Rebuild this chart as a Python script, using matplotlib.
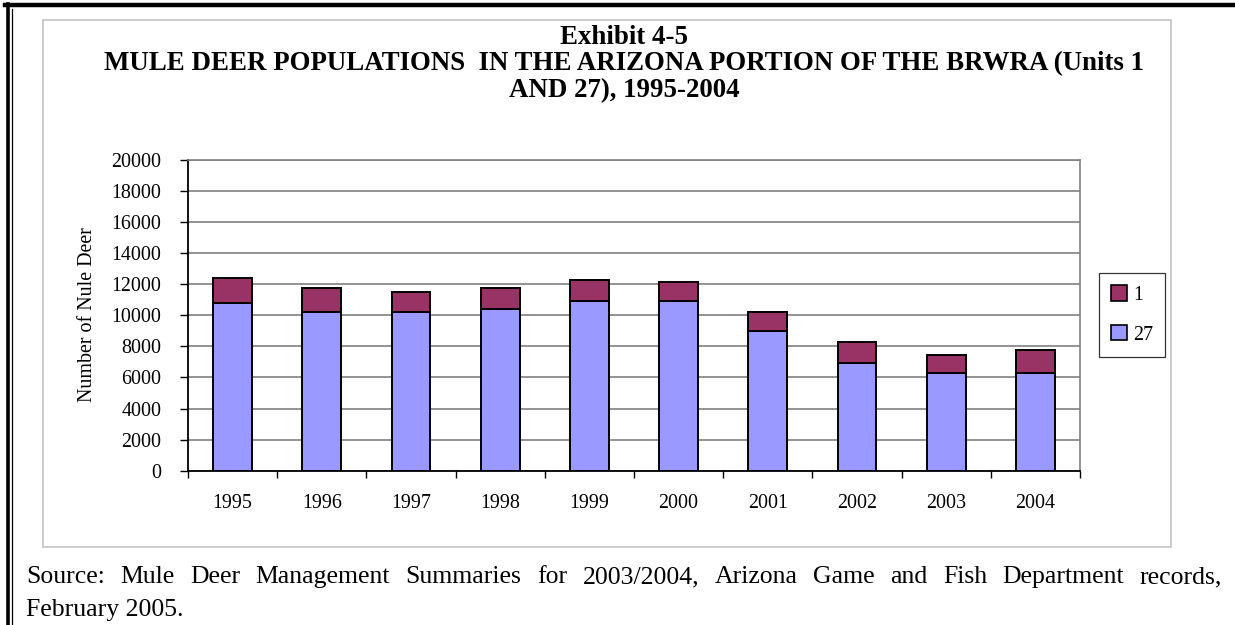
import matplotlib
matplotlib.use("Agg")
import matplotlib.pyplot as plt
from matplotlib.patches import Rectangle, Patch
from matplotlib.lines import Line2D

years = ["1995", "1996", "1997", "1998", "1999", "2000", "2001", "2002", "2003", "2004"]
unit27 = [10800, 10200, 10200, 10400, 10950, 10950, 9000, 6950, 6280, 6280]
unit1 = [1600, 1560, 1280, 1360, 1300, 1180, 1220, 1330, 1180, 1510]
yticks = list(range(0, 20001, 2000))

C27 = "#9999FF"
C1 = "#993366"
SERIF = ["Liberation Serif", "DejaVu Serif"]
plt.rcParams["font.family"] = SERIF

W, H = 1235, 625
fig = plt.figure(figsize=(W / 100, H / 100), dpi=100)
fig.patch.set_facecolor("white")


def fx(px):
    return px / W


def fy(py):
    return 1 - py / H


# outer page frame
fig.add_artist(Line2D([fx(5), fx(1235)], [fy(5), fy(5)], color="black", lw=3.2, transform=fig.transFigure))
fig.add_artist(Line2D([fx(7.5), fx(7.5)], [fy(3.5), fy(625)], color="black", lw=2.6, transform=fig.transFigure))
fig.add_artist(Line2D([fx(11.5), fx(11.5)], [fy(9), fy(625)], color="black", lw=0.9, transform=fig.transFigure))

# chart area box
fig.add_artist(Rectangle((fx(43), fy(547)), fx(1171) - fx(43), fy(20) - fy(547),
                         transform=fig.transFigure, fill=False, edgecolor="#c8c8c8", lw=1.3))

ax = fig.add_axes([fx(188), fy(470.7), fx(1080) - fx(188), fy(160) - fy(470.7)])
x = list(range(len(years)))
ax.bar(x, unit27, width=0.435, color=C27, edgecolor="black", linewidth=1.4, zorder=3)
ax.bar(x, unit1, bottom=unit27, width=0.435, color=C1, edgecolor="black", linewidth=1.4, zorder=3)

TFS = 14.4
ax.set_xlim(-0.5, len(years) - 0.5)
ax.set_ylim(0, 20000)
ax.set_yticks(yticks)
ax.set_yticklabels([str(v) for v in yticks], fontsize=TFS)
ax.set_xticks(x)
ax.set_xticklabels(years, fontsize=TFS)
ax.set_xticks([i - 0.5 for i in range(len(years) + 1)], minor=True)
ax.tick_params(axis="x", which="major", length=0, pad=17)
ax.tick_params(axis="x", which="minor", length=5, width=1, direction="out")
ax.tick_params(axis="y", which="major", length=6, width=1, direction="out", pad=13)
ax.yaxis.grid(True, color="#808080", lw=1.2, zorder=0)
ax.set_axisbelow(True)
for s in ("top", "right"):
    ax.spines[s].set_color("#808080")
    ax.spines[s].set_linewidth(1.2)
for s in ("left", "bottom"):
    ax.spines[s].set_color("black")
    ax.spines[s].set_linewidth(1.3)

fig.text(fx(88), fy(315), "Number of Nule Deer", rotation=90, ha="center", va="center", fontsize=TFS)

# title
title_lines = ["Exhibit 4-5",
               "MULE DEER POPULATIONS  IN THE ARIZONA PORTION OF THE BRWRA (Units 1",
               "AND 27), 1995-2004"]
for i, t in enumerate(title_lines):
    fig.text(fx(624), fy(37 + 27 * i), t, ha="center", va="center", fontsize=19.4, fontweight="bold")

# legend
handles = [Patch(facecolor=C1, edgecolor="black", lw=1.2, label="1"),
           Patch(facecolor=C27, edgecolor="black", lw=1.2, label="27")]
leg = fig.legend(handles=handles, loc="center", bbox_to_anchor=(fx(1132), fy(315)),
                 fontsize=TFS, frameon=True, fancybox=False, edgecolor="black",
                 handlelength=0.8, handleheight=0.8, handletextpad=0.3,
                 labelspacing=1.0, borderpad=0.6, borderaxespad=0)
leg.get_frame().set_linewidth(0.9)

# source note, justified first line
line1 = "Source: Mule Deer Management Summaries for 2003/2004, Arizona Game and Fish Department records,"
line2 = "February 2005."
fs = 18.5
fig.canvas.draw()
renderer = fig.canvas.get_renderer()
words = line1.split()
texts = [fig.text(0, fy(577), w, fontsize=fs, ha="left", va="center") for w in words]
widths = [t.get_window_extent(renderer).width for t in texts]
x0, x1 = 26, 1222
gap = (x1 - x0 - sum(widths)) / (len(words) - 1)
cur = x0
for t, wdt in zip(texts, widths):
    t.set_x(fx(cur))
    cur += wdt + gap
fig.text(fx(26), fy(610), line2, fontsize=fs, ha="left", va="center")

fig.savefig("out.png", dpi=100)
